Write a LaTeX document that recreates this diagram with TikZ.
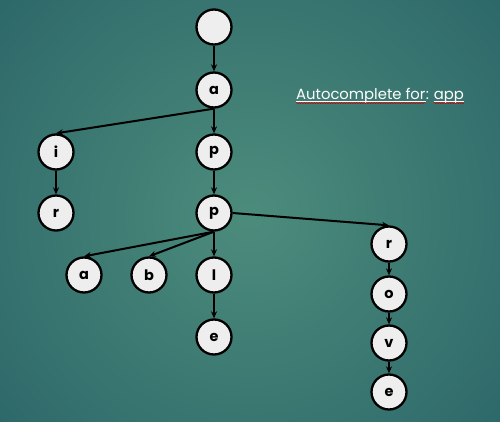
\documentclass[tikz,border=0pt]{standalone}
\usepackage{fontspec}
\setmainfont{Poppins}
\usetikzlibrary{arrows.meta,decorations.pathmorphing}
\definecolor{bgin}{RGB}{76,140,124}
\definecolor{bgout}{RGB}{30,86,96}
\definecolor{nodefill}{RGB}{238,238,238}
\tikzset{
  trie/.style={circle, draw=black, line width=2.3pt, fill=nodefill, minimum size=35pt, inner sep=0pt, font=\bfseries\fontsize{14.5}{14.5}\selectfont},
  link/.style={line width=2pt, -{Stealth[length=7pt,width=6pt]}},
  lbl/.style={text=white, font=\fontsize{14.8}{15}\selectfont, inner sep=0pt, anchor=base west}
}
\begin{document}
\begin{tikzpicture}[x=1pt,y=-1pt]
\useasboundingbox (0,0) rectangle (500,422);
\begin{scope}
  \clip (0,0) rectangle (500,422);
  \fill[bgout] (0,0) rectangle (500,422);
  \shade[inner color=bgin, outer color=bgout] (250,215) circle (500pt);
\end{scope}
\node[trie] (root) at (214,27) {};
\node[trie] (a) at (214,90) {a};
\node[trie] (i) at (56,152) {i};
\node[trie] (p1) at (214,152) {p};
\node[trie] (r1) at (56,213) {r};
\node[trie] (p2) at (214,213) {p};
\node[trie] (a2) at (84,275) {a};
\node[trie] (b) at (149,275) {b};
\node[trie] (l) at (214,275) {l};
\node[trie] (e1) at (214,337) {e};
\node[trie] (r2) at (389,244) {r};
\node[trie] (o) at (389,294) {o};
\node[trie] (v) at (389,343) {v};
\node[trie] (e2) at (389,392) {e};
\draw[link] (root.south) -- (a.north);
\draw[link] (a.south) -- (i.north);
\draw[link] (a.south) -- (p1.north);
\draw[link] (i.south) -- (r1.north);
\draw[link] (p1.south) -- (p2.north);
\draw[link] (p2.south) -- (a2.north);
\draw[link] (p2.south) -- (b.north);
\draw[link] (p2.south) -- (l.north);
\draw[link] (l.south) -- (e1.north);
\draw[link] (p2.east) -- (r2.north);
\draw[link] (r2.south) -- (o.north);
\draw[link] (o.south) -- (v.north);
\draw[link] (v.south) -- (e2.north);
\node[lbl] (t1) at (296,100) {Autocomplete for};
\node[lbl] (t2) at (t1.base east) {:};
\node[lbl] (t3) at ([xshift=4.5pt]t2.base east) {app};
\coordinate (u1s) at ([yshift=-1.5pt]t1.base west);
\coordinate (u1e) at ([yshift=-1.5pt]t1.base east);
\coordinate (u3s) at ([yshift=-1.5pt]t3.base west);
\coordinate (u3e) at ([yshift=-1.5pt]t3.base east);
\draw[white, line width=0.8pt] (u1s) -- (u1e);
\draw[white, line width=0.8pt] (u3s) -- (u3e);
\draw[red!80!black, line width=0.5pt, decorate, decoration={snake, segment length=2.5pt, amplitude=0.6pt}] ([yshift=-1.6pt]u1s) -- ([yshift=-1.6pt]u1e);
\draw[red!80!black, line width=0.5pt, decorate, decoration={snake, segment length=2.5pt, amplitude=0.6pt}] ([yshift=-1.6pt]u3s) -- ([yshift=-1.6pt]u3e);
\end{tikzpicture}
\end{document}
